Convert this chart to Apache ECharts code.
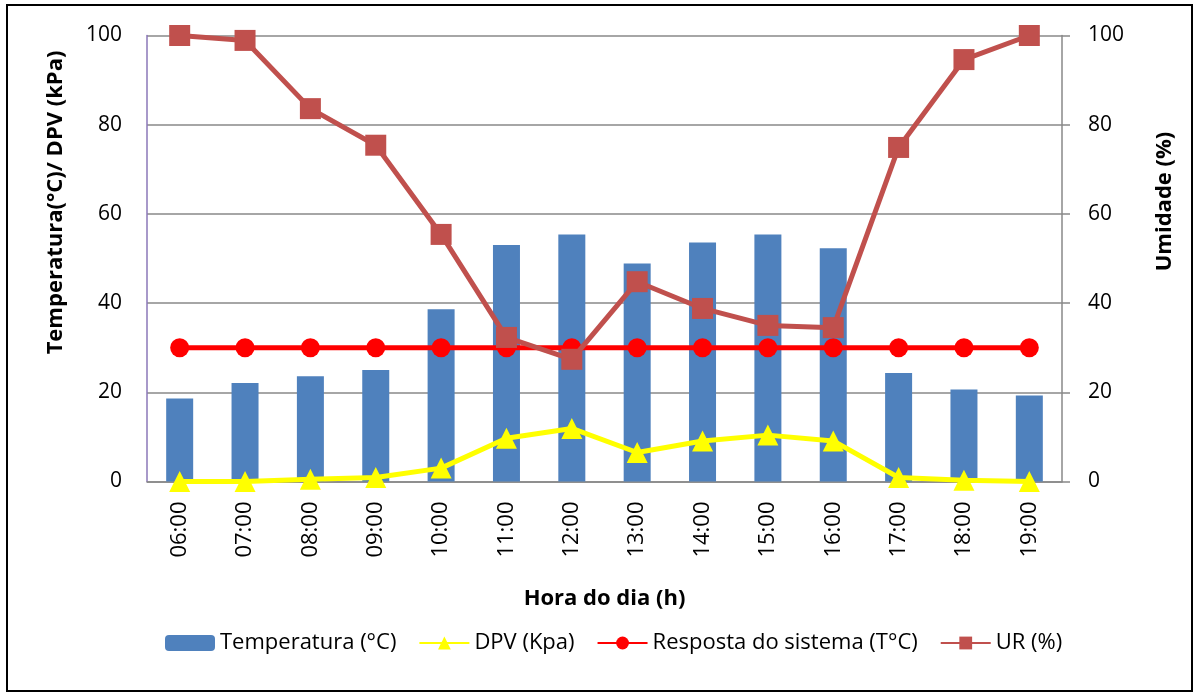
<!DOCTYPE html>
<html>
<head>
<meta charset="utf-8">
<script src="https://cdn.jsdelivr.net/npm/echarts@6/dist/echarts.min.js"></script>
<style>html,body{margin:0;padding:0;background:#fff}#c{width:1200px;height:693px}</style>
</head>
<body>
<div id="c"></div>
<script>
const categories = ['06:00','07:00','08:00','09:00','10:00','11:00','12:00','13:00','14:00','15:00','16:00','17:00','18:00','19:00'];
const temperatura = [18.6, 22.1, 23.6, 25.0, 38.6, 53.0, 55.4, 48.9, 53.6, 55.4, 52.3, 24.3, 20.6, 19.3];
const dpv = [0.0, 0.0, 0.5, 0.9, 3.0, 9.7, 11.9, 6.5, 9.1, 10.4, 9.1, 0.9, 0.3, 0.0];
const resposta = [30, 30, 30, 30, 30, 30, 30, 30, 30, 30, 30, 30, 30, 30];
const ur = [100, 98.9, 83.6, 75.4, 55.4, 32.3, 27.4, 44.8, 38.8, 35.0, 34.5, 74.9, 94.6, 100];
const yTicks = [0, 20, 40, 60, 80, 100];

const FONT = '"Open Sans", Lato, sans-serif';
const chart = echarts.init(document.getElementById('c'), null, {renderer: 'canvas'});
chart.setOption({
  animation: false,
  backgroundColor: '#fff',
  textStyle: {fontFamily: FONT, color: '#000'},
  graphic: [{
    type: 'rect', shape: {x: 7, y: 5, width: 1185, height: 686},
    style: {fill: 'none', stroke: '#000', lineWidth: 2}, silent: true, z: -1
  }],
  grid: {left: 147, right: 138, top: 35.5, bottom: 211.5, containLabel: false},
  legend: {
    top: 627, left: 160,
    itemWidth: 50, itemHeight: 16, itemGap: 22,
    textStyle: {fontFamily: FONT, fontSize: 22, color: '#000'},
    data: ['Temperatura (°C)', 'DPV (Kpa)', 'Resposta do sistema (T°C)', 'UR (%)']
  },
  xAxis: {
    type: 'category', data: categories,
    name: 'Hora do dia (h)', nameLocation: 'middle', nameGap: 106,
    nameTextStyle: {fontFamily: FONT, fontSize: 22, fontWeight: 'bold', color: '#000'},
    axisLine: {lineStyle: {color: '#888', width: 1.5}},
    axisTick: {show: false},
    axisLabel: {rotate: 90, fontSize: 22, color: '#000', margin: 20, fontFamily: FONT}
  },
  yAxis: [{
    type: 'value', min: 0, max: 100, interval: 20,
    axisLabel: {fontSize: 21, color: '#000', margin: 25, fontFamily: FONT,
      formatter: v => yTicks.includes(v) ? String(v) : ''},
    name: 'Temperatura(°C)/ DPV (kPa)', nameLocation: 'middle', nameGap: 80, nameRotate: 90,
    nameTextStyle: {fontFamily: FONT, fontSize: 22, fontWeight: 'bold', color: '#000', padding: [0, 0, 0, 112]},
    axisLine: {show: true, lineStyle: {color: '#8B77B9', width: 1.5}},
    axisTick: {show: false},
    splitLine: {lineStyle: {color: '#888', width: 1.5}}
  }, {
    type: 'value', min: 0, max: 100, interval: 20, position: 'right',
    name: 'Umidade (%)', nameLocation: 'middle', nameGap: 92, nameRotate: 90,
    nameTextStyle: {fontFamily: FONT, fontSize: 22, fontWeight: 'bold', color: '#000', padding: [0, 0, 0, 114]},
    axisLine: {show: true, lineStyle: {color: '#888', width: 1.5}},
    axisTick: {show: true, inside: false, length: 8, lineStyle: {color: '#888', width: 1.5}},
    axisLabel: {fontSize: 21, color: '#000', margin: 26, fontFamily: FONT},
    splitLine: {show: false}
  }],
  series: [{
    name: 'Temperatura (°C)', type: 'bar', data: temperatura, barWidth: 27,
    itemStyle: {color: '#4F81BD'}, z: 1
  }, {
    name: 'DPV (Kpa)', type: 'line', data: dpv, symbol: 'triangle', symbolSize: 21,
    lineStyle: {color: '#FFFF00', width: 5}, itemStyle: {color: '#FFFF00'}, z: 3
  }, {
    name: 'Resposta do sistema (T°C)', type: 'line', data: resposta, symbol: 'circle', symbolSize: 19,
    lineStyle: {color: '#FF0000', width: 5}, itemStyle: {color: '#FF0000'}, z: 4
  }, {
    name: 'UR (%)', type: 'line', yAxisIndex: 1, data: ur, symbol: 'rect', symbolSize: 21,
    lineStyle: {color: '#C0504D', width: 5}, itemStyle: {color: '#C0504D'}, z: 5
  }]
});
</script>
</body>
</html>
